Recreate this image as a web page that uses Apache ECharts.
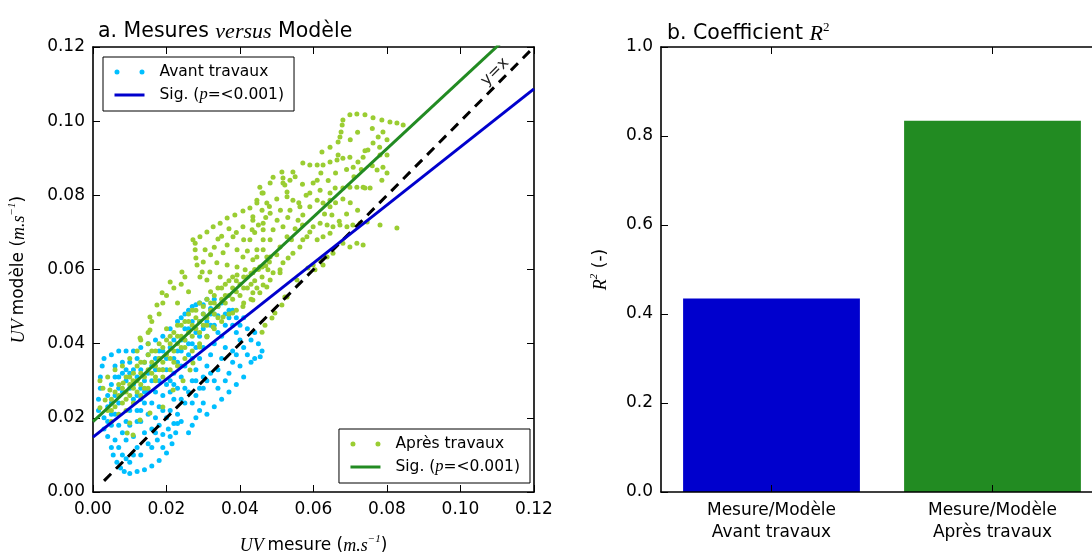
<!DOCTYPE html>
<html>
<head>
<meta charset="utf-8">
<script src="https://cdn.jsdelivr.net/npm/echarts@6.0.0/dist/echarts.min.js"></script>
<style>
  html, body { margin: 0; padding: 0; background: #fff; }
  #chart { width: 1092px; height: 554px; }
</style>
</head>
<body>
<div id="chart"></div>
<script>
// UV measured vs modelled, before works (Avant travaux)
const avantPoints = [
  [0.0015,0.022],[0.0015,0.025],[0.002,0.028],[0.002,0.031],[0.0025,0.034],[0.003,0.036],[0.005,0.037],[0.007,0.038],[0.009,0.038],[0.011,0.038],[0.013,0.039],[0.015,0.040],[0.017,0.041],[0.019,0.042],[0.021,0.044],[0.023,0.046],[0.025,0.048],[0.027,0.050],[0.029,0.051],[0.031,0.052],[0.033,0.052],[0.035,0.051],[0.037,0.049],
  [0.003,0.020],[0.004,0.023],[0.004,0.026],[0.005,0.029],[0.006,0.031],[0.006,0.034],[0.008,0.035],[0.010,0.035],[0.012,0.036],[0.003,0.017],[0.004,0.015],[0.005,0.018],[0.006,0.021],[0.007,0.024],[0.008,0.027],[0.009,0.030],[0.010,0.032],[0.011,0.029],[0.012,0.031],[0.013,0.033],[0.014,0.035],[0.015,0.037],
  [0.005,0.012],[0.0055,0.010],[0.0065,0.008],[0.0075,0.0065],[0.0085,0.0055],[0.010,0.005],[0.012,0.0055],[0.014,0.006],[0.016,0.007],[0.018,0.0085],[0.020,0.0105],[0.0215,0.013],[0.0225,0.016],[0.023,0.0185],
  [0.016,0.012],[0.0175,0.014],[0.019,0.0155],[0.0205,0.017],[0.022,0.0185],[0.024,0.019],
  [0.006,0.014],[0.007,0.012],[0.008,0.010],[0.009,0.009],[0.010,0.008],[0.011,0.010],[0.012,0.012],[0.013,0.010],[0.008,0.016],[0.009,0.019],[0.010,0.022],[0.011,0.025],[0.012,0.022],[0.013,0.019],[0.014,0.016],[0.015,0.013],[0.016,0.017],[0.017,0.020],[0.018,0.023],[0.019,0.026],[0.020,0.029],[0.014,0.024],[0.015,0.027],[0.016,0.030],[0.017,0.033],[0.018,0.036],[0.019,0.038],[0.013,0.028],[0.012,0.026],[0.010,0.018],[0.011,0.015],[0.007,0.018],[0.009,0.014],[0.015,0.021],[0.016,0.024],[0.017,0.027],[0.018,0.030],[0.019,0.033],[0.020,0.036],[0.021,0.039],[0.022,0.041],
  [0.021,0.022],[0.022,0.025],[0.023,0.028],[0.024,0.031],[0.025,0.034],[0.026,0.037],[0.027,0.040],[0.028,0.043],[0.029,0.046],[0.030,0.048],[0.022,0.032],[0.023,0.035],[0.024,0.038],[0.025,0.041],[0.026,0.044],[0.027,0.046],[0.023,0.021],[0.025,0.024],[0.026,0.027],[0.027,0.030],[0.028,0.033],[0.029,0.036],[0.030,0.039],[0.031,0.042],[0.032,0.045],[0.033,0.048],[0.034,0.050],
  [0.026,0.016],[0.027,0.018],[0.028,0.020],[0.029,0.022],[0.030,0.024],[0.028,0.026],[0.030,0.028],[0.031,0.030],[0.032,0.032],[0.033,0.030],[0.034,0.033],[0.035,0.036],[0.036,0.039],[0.035,0.042],[0.036,0.045],[0.037,0.047],[0.038,0.045],[0.039,0.043],[0.040,0.041],[0.041,0.039],[0.042,0.037],[0.043,0.035],[0.037,0.032],[0.038,0.035],[0.039,0.037],[0.040,0.034],[0.041,0.031],[0.039,0.029],[0.037,0.027],[0.035,0.025],[0.033,0.023],[0.031,0.021],[0.034,0.028],[0.036,0.030],[0.038,0.038],[0.040,0.045],[0.041,0.047],[0.042,0.044],[0.043,0.041],[0.044,0.043],[0.045,0.040],[0.046,0.038],[0.0455,0.0365],[0.044,0.036],[0.032,0.037],[0.033,0.040],[0.034,0.043],[0.031,0.034],[0.030,0.031],
  [0.024,0.047],[0.026,0.049],[0.028,0.0505],[0.030,0.0505],[0.032,0.0495],[0.034,0.0475],[0.036,0.048],[0.038,0.049],[0.039,0.047],
  [0.004,0.019],[0.005,0.021],[0.005,0.024],[0.006,0.026],[0.007,0.028],[0.007,0.031],[0.008,0.032],[0.009,0.033],[0.010,0.028],[0.011,0.033],[0.012,0.019],[0.013,0.022],[0.013,0.025],[0.014,0.027],[0.014,0.030],[0.015,0.032],[0.016,0.034],[0.017,0.036],[0.018,0.038],[0.020,0.033],[0.021,0.030],[0.021,0.027],[0.022,0.029],[0.022,0.036],[0.023,0.038],[0.024,0.034],[0.024,0.041],[0.025,0.044],[0.026,0.040],[0.027,0.036],[0.028,0.039],[0.029,0.042],[0.030,0.044],[0.031,0.046],[0.032,0.048],[0.033,0.045],[0.029,0.028],[0.028,0.030],[0.027,0.024],[0.025,0.028],[0.024,0.025],[0.020,0.020],[0.019,0.022],[0.018,0.018],[0.017,0.016],[0.019,0.012],[0.021,0.015]
];

// UV measured vs modelled, after works (Après travaux)
const apresPoints = [
  [0.004,0.022],[0.005,0.025],[0.006,0.023],[0.006,0.027],[0.007,0.026],[0.008,0.024],[0.008,0.028],[0.009,0.027],[0.009,0.031],[0.010,0.026],[0.010,0.029],[0.011,0.028],[0.011,0.032],[0.012,0.030],[0.012,0.034],[0.013,0.029],[0.013,0.032],[0.014,0.031],[0.014,0.035],[0.015,0.033],[0.015,0.037],[0.016,0.032],[0.016,0.035],[0.017,0.034],[0.017,0.038],[0.018,0.033],[0.018,0.036],[0.019,0.035],[0.019,0.039],[0.020,0.037],[0.020,0.041],[0.021,0.036],[0.021,0.040],[0.022,0.038],[0.022,0.043],[0.023,0.040],[0.023,0.045],[0.024,0.039],[0.024,0.042],[0.025,0.041],[0.025,0.046],[0.026,0.043],[0.026,0.048],[0.027,0.042],[0.027,0.045],[0.028,0.044],[0.028,0.049],[0.029,0.046],[0.029,0.051],[0.030,0.045],[0.030,0.048],[0.031,0.047],[0.031,0.052],[0.032,0.049],[0.032,0.054],[0.033,0.048],[0.033,0.051],[0.034,0.050],[0.034,0.055],[0.035,0.052],[0.036,0.051],[0.036,0.056],[0.037,0.053],[0.038,0.055],[0.038,0.058],[0.039,0.054],[0.040,0.056],[0.041,0.058],[0.042,0.055],[0.043,0.059],[0.044,0.057],[0.045,0.060],
  [0.005,0.022],[0.007,0.029],[0.009,0.025],[0.010,0.031],[0.012,0.027],[0.013,0.035],[0.014,0.028],[0.016,0.038],[0.017,0.031],[0.018,0.040],[0.019,0.033],[0.020,0.044],[0.021,0.042],[0.022,0.035],[0.023,0.042],[0.024,0.045],[0.025,0.039],[0.026,0.046],[0.027,0.049],[0.028,0.047],[0.029,0.043],[0.030,0.050],[0.031,0.045],[0.032,0.051],[0.033,0.053],[0.034,0.047],[0.035,0.055],[0.036,0.053],[0.037,0.057],[0.038,0.052],[0.039,0.057],[0.040,0.053],[0.041,0.055],[0.042,0.058],[0.043,0.056],[0.044,0.060],[0.046,0.058],[0.047,0.061],[0.048,0.062],[0.050,0.064],
  [0.005,0.019],[0.007,0.021],[0.009,0.022],[0.011,0.024],[0.013,0.026],[0.015,0.028],[0.017,0.030],[0.019,0.031],[0.021,0.033],[0.023,0.034],[0.025,0.036],[0.027,0.038],[0.029,0.040],[0.031,0.042],[0.033,0.044],[0.035,0.046],[0.037,0.048],[0.039,0.049],[0.041,0.051],[0.043,0.052],
  [0.0019,0.0227],[0.0033,0.0248],[0.0046,0.0275],[0.0082,0.0294],[0.0109,0.030],[0.0093,0.0159],[0.0109,0.0154],[0.010,0.0186],[0.0128,0.0194],[0.0155,0.0213],[0.019,0.0229],[0.0218,0.0275],[0.0245,0.030],[0.0264,0.0329],[0.0272,0.0348],[0.029,0.0391],[0.031,0.0418],[0.0327,0.0445],[0.0354,0.0472],[0.038,0.0483],[0.0408,0.050],[0.0435,0.0518],[0.0454,0.0537],[0.0473,0.0553],
  [0.0019,0.030],[0.0027,0.028],[0.004,0.031],[0.006,0.033],[0.008,0.034],[0.010,0.036],[0.012,0.038],[0.013,0.041],[0.015,0.043],[0.016,0.046],[0.018,0.048],[0.019,0.051],[0.020,0.053],[0.022,0.055],[0.023,0.051],[0.024,0.056],[0.026,0.054],[0.025,0.058],
  [0.0128,0.0415],[0.015,0.040],[0.0155,0.0437],[0.0155,0.0472],[0.0174,0.0504],[0.0188,0.0537],[0.021,0.0566],
  [0.0272,0.068],[0.0291,0.0688],[0.031,0.0701],[0.0327,0.0715],[0.0346,0.0725],[0.0365,0.0739],[0.0386,0.0747],[0.0408,0.0758],[0.0427,0.0766],[0.0446,0.0779],[0.046,0.0806],
  [0.0278,0.0671],[0.0278,0.0653],[0.028,0.0631],[0.0283,0.0612],[0.0242,0.0593],
  [0.0305,0.0653],[0.034,0.0682],[0.0381,0.0688],[0.0365,0.0666],[0.0392,0.0653],[0.0354,0.0645],[0.0337,0.0618],[0.0365,0.0612],[0.0408,0.0715],[0.0435,0.0733],[0.0433,0.0707],[0.0463,0.0707],[0.0463,0.068],[0.0427,0.068],[0.0408,0.0634],[0.0446,0.0653],[0.0435,0.0626],[0.0392,0.0607],[0.0318,0.0593],[0.0297,0.0593],[0.031,0.0572],[0.0291,0.058],[0.0346,0.058],[0.0392,0.0585],[0.0414,0.0599],[0.046,0.0607],[0.0473,0.0634],
  [0.030,0.062],[0.032,0.064],[0.033,0.066],[0.035,0.069],[0.037,0.071],[0.039,0.070],[0.041,0.068],[0.042,0.065],[0.044,0.070],[0.045,0.072],[0.047,0.074],[0.048,0.077],[0.050,0.079],[0.051,0.076],[0.053,0.074],[0.055,0.071],[0.057,0.072],[0.054,0.068],[0.056,0.078],[0.058,0.080],[0.057,0.083],[0.055,0.085],
  [0.0599,0.0715],[0.0618,0.0725],[0.0637,0.072],[0.0653,0.0715],[0.0672,0.072],[0.0691,0.0715],[0.0707,0.072],[0.0727,0.0725],[0.0746,0.0728],[0.0781,0.072],[0.0827,0.0712],
  [0.059,0.0701],[0.0582,0.0688],[0.0571,0.068],[0.0563,0.0661],[0.0544,0.0644],[0.0531,0.0631],[0.0517,0.0618],[0.0509,0.0599],[0.049,0.0591],[0.0482,0.0572],[0.0463,0.0558],[0.0446,0.055],[0.0435,0.0537],
  [0.061,0.068],[0.0626,0.0688],[0.0645,0.0698],[0.068,0.0671],[0.0699,0.0661],[0.0718,0.0671],[0.0735,0.0666],
  [0.0653,0.0644],[0.0637,0.0634],[0.0618,0.0626],[0.0599,0.0612],[0.0585,0.0604],
  [0.0495,0.0483],[0.0487,0.0469],[0.0468,0.045],[0.046,0.0431],[0.0514,0.0504],[0.0528,0.0526],[0.0509,0.0591],[0.0555,0.0572],[0.0522,0.0526],[0.0626,0.0612],[0.0604,0.0599],
  [0.0454,0.0822],[0.0463,0.0806],[0.0446,0.0787],[0.0473,0.0779],[0.046,0.076],[0.0482,0.0752],[0.0435,0.0742],[0.0463,0.0725],[0.0501,0.0733],[0.049,0.0707],[0.0517,0.0715],[0.0528,0.0688],[0.0482,0.068],[0.0509,0.0661],[0.0463,0.0653],[0.0446,0.0634],[0.0482,0.0634],[0.0454,0.0607],[0.0435,0.0591],[0.0476,0.0599],
  [0.049,0.0849],[0.0482,0.0833],[0.0517,0.0833],[0.0536,0.0841],[0.0544,0.0863],
  [0.0528,0.0796],[0.0544,0.0787],[0.0563,0.0769],[0.0536,0.076],[0.0571,0.0747],[0.0558,0.0733],
  [0.0599,0.0833],[0.061,0.0841],[0.0618,0.0814],[0.059,0.0806],[0.061,0.0787],[0.0626,0.0779],[0.059,0.0769],
  [0.0514,0.0863],[0.0517,0.0847],[0.0522,0.0828],[0.0528,0.0809],
  [0.063,0.075],[0.066,0.078],[0.068,0.079],[0.070,0.078],[0.072,0.076],[0.069,0.075],[0.067,0.073],[0.071,0.085],[0.069,0.087],[0.066,0.086],[0.064,0.084],[0.062,0.086],[0.073,0.087],[0.076,0.088],[0.078,0.093],[0.080,0.095],[0.076,0.098],[0.072,0.097],[0.070,0.095],[0.074,0.092],
  [0.068,0.1003],[0.0699,0.1017],[0.0718,0.1019],[0.074,0.1017],[0.0762,0.1009],[0.0786,0.1003],[0.0808,0.0998],[0.0827,0.0995],[0.0844,0.099],
  [0.0678,0.099],[0.0675,0.0971],[0.0672,0.0957],[0.0667,0.0944],[0.0645,0.093],[0.0623,0.0917],[0.0667,0.0909],
  [0.0789,0.0971],[0.0776,0.0957],[0.0762,0.0941],[0.0748,0.0922],[0.0735,0.0903],[0.0721,0.089],[0.0708,0.0876],
  [0.0781,0.0909],[0.080,0.0909],[0.0789,0.0876],[0.0773,0.0868],[0.080,0.086],[0.0786,0.0841],[0.0754,0.082],[0.0735,0.0822],
  [0.0571,0.0887],[0.059,0.0882],[0.061,0.0882],[0.0626,0.0882],[0.0645,0.089],[0.0664,0.0895],[0.068,0.090],[0.0699,0.0903],
  [0.0659,0.082],[0.068,0.082],[0.0699,0.0822],[0.0718,0.0822],[0.074,0.082],
  [0.0645,0.0806],[0.0645,0.0787],[0.0645,0.0769],[0.065,0.0747]
];

// Fitted regression lines (end points) and the identity line
const sigAvant = [[0, 0.0148], [0.12, 0.1087]];
const sigApres = [[0, 0.019], [0.12, 0.1294]];
const identityLine = [[0.003, 0.003], [0.12, 0.12]];

// Coefficient of determination per period
const r2Categories = ['Mesure/Modèle\nAvant travaux', 'Mesure/Modèle\nAprès travaux'];
const r2Values = [0.435, 0.834];

const FONT = 'DejaVu Sans';
const MATH = 'Liberation Serif';
const INK = '#000';
const BLUE_DOT = '#00bfff';
const GREEN_DOT = '#9acd32';
const BLUE = '#0000cd';
const GREEN = '#228b22';

const richMath = {
  n: { fontFamily: FONT, fontSize: 17, color: INK, fontWeight: 'normal' },
  i: { fontFamily: MATH, fontStyle: 'italic', fontSize: 18, color: INK, fontWeight: 'normal' },
  sup: { fontFamily: MATH, fontStyle: 'italic', fontSize: 11, color: INK, verticalAlign: 'top', fontWeight: 'normal' }
};

const twoDots = 'path://M0,2.5A2.5,2.5,0,1,1,5,2.5A2.5,2.5,0,1,1,0,2.5ZM25,2.5A2.5,2.5,0,1,1,30,2.5A2.5,2.5,0,1,1,25,2.5Z';

const legendCommon = {
  orient: 'vertical',
  itemWidth: 30,
  itemHeight: 5,
  itemGap: 5,
  padding: [6, 10, 7, 10],
  borderColor: INK,
  borderWidth: 1,
  borderRadius: 0,
  backgroundColor: '#fff',
  selectedMode: false,
  lineStyle: { width: 3 },
  textStyle: {
    fontFamily: FONT, fontSize: 15.5, color: INK, lineHeight: 18, padding: [0, 0, 0, 10],
    rich: {
      n: { fontFamily: FONT, fontSize: 15.5, color: INK },
      i: { fontFamily: MATH, fontStyle: 'italic', fontSize: 16.5, color: INK }
    }
  },
  formatter: function (name) {
    if (name.indexOf('Sig') === 0) return '{n|Sig. (}{i|p}{n|=<0.001)}';
    return name;
  }
};

const valueAxisBase = {
  min: 0, max: 0.12, interval: 0.02,
  axisLine: { show: true, onZero: false, lineStyle: { color: INK, width: 1.6 } },
  axisTick: { show: true, inside: true, length: 7, lineStyle: { color: INK, width: 1 } },
  splitLine: { show: false }
};

const tickLabel = {
  fontFamily: FONT, fontSize: 17, color: INK,
  formatter: v => v.toFixed(2)
};

const option = {
  animation: false,
  backgroundColor: '#fff',
  textStyle: { fontFamily: FONT },
  title: [
    {
      left: 93, top: 16,
      text: '{n|a. Mesures }{i|versus}{n| Modèle}',
      textStyle: {
        fontWeight: 'normal',
        rich: {
          n: { fontFamily: FONT, fontSize: 20.5, color: INK, fontWeight: 'normal' },
          i: { fontFamily: MATH, fontStyle: 'italic', fontSize: 22, color: INK, fontWeight: 'normal' }
        }
      }
    },
    {
      left: 662, top: 16,
      text: '{n|b. Coefficient }{i|R}{sup|2}',
      textStyle: {
        fontWeight: 'normal',
        rich: {
          n: { fontFamily: FONT, fontSize: 20.5, color: INK, lineHeight: 26, fontWeight: 'normal' },
          i: { fontFamily: MATH, fontStyle: 'italic', fontSize: 22, color: INK, lineHeight: 26, fontWeight: 'normal' },
          sup: { fontFamily: MATH, fontSize: 13, color: INK, verticalAlign: 'top', lineHeight: 26, fontWeight: 'normal' }
        }
      }
    }
  ],
  legend: [
    Object.assign({}, legendCommon, {
      left: 103, top: 57,
      data: [{ name: 'Avant travaux', icon: twoDots }, { name: 'Sig. avant', itemStyle: { opacity: 0 } }]
    }),
    Object.assign({}, legendCommon, {
      right: 562, bottom: 71,
      data: [{ name: 'Après travaux', icon: twoDots }, { name: 'Sig. après', itemStyle: { opacity: 0 } }]
    })
  ],
  grid: [
    { left: 93, top: 47, right: 558, bottom: 62, containLabel: false, outerBoundsMode: 'none' },
    { left: 661, top: 47, right: -11, bottom: 62, containLabel: false, outerBoundsMode: 'none' }
  ],
  xAxis: [
    Object.assign({}, valueAxisBase, {
      type: 'value', gridIndex: 0, position: 'bottom',
      axisLabel: Object.assign({ margin: 9 }, tickLabel),
      name: '{i|UV} {n|mesure (}{i|m.s}{sup|−1}{n|)}',
      nameLocation: 'middle', nameGap: 42,
      nameTextStyle: { rich: richMath, lineHeight: 24 }
    }),
    Object.assign({}, valueAxisBase, {
      type: 'value', gridIndex: 0, position: 'top', axisLabel: { show: false }
    }),
    {
      type: 'category', gridIndex: 1, position: 'bottom', data: r2Categories, z: 5,
      axisLine: { show: true, lineStyle: { color: INK, width: 1.6 } },
      axisTick: { show: true, inside: true, length: 7, alignWithLabel: true, lineStyle: { color: INK, width: 1 } },
      axisLabel: { fontFamily: FONT, fontSize: 17, color: INK, lineHeight: 22, margin: 8 }
    },
    {
      type: 'category', gridIndex: 1, position: 'top', data: r2Categories, z: 5,
      axisLine: { show: true, lineStyle: { color: INK, width: 1.6 } },
      axisTick: { show: true, inside: true, length: 7, alignWithLabel: true, lineStyle: { color: INK, width: 1 } },
      axisLabel: { show: false }
    }
  ],
  yAxis: [
    Object.assign({}, valueAxisBase, {
      type: 'value', gridIndex: 0, position: 'left',
      axisLabel: Object.assign({ margin: 8 }, tickLabel),
      name: '{i|UV} {n|modèle (}{i|m.s}{sup|−1}{n|)}',
      nameLocation: 'middle', nameGap: 62,
      nameTextStyle: { rich: richMath, lineHeight: 24 }
    }),
    Object.assign({}, valueAxisBase, {
      type: 'value', gridIndex: 0, position: 'right', axisLabel: { show: false }
    }),
    {
      type: 'value', gridIndex: 1, position: 'left', min: 0, max: 1, interval: 0.2, z: 5,
      axisLine: { show: true, onZero: false, lineStyle: { color: INK, width: 1.6 } },
      axisTick: { show: true, inside: true, length: 7, lineStyle: { color: INK, width: 1 } },
      splitLine: { show: false },
      axisLabel: { fontFamily: FONT, fontSize: 17, color: INK, margin: 8, formatter: v => v.toFixed(1) },
      name: '{i|R}{sup|2}{n| (-)}',
      nameLocation: 'middle', nameGap: 48,
      nameTextStyle: { rich: richMath, lineHeight: 24 }
    }
  ],
  series: [
    {
      name: 'Avant travaux', type: 'scatter', xAxisIndex: 0, yAxisIndex: 0,
      data: avantPoints, symbol: 'circle', symbolSize: 5,
      itemStyle: { color: BLUE_DOT, opacity: 1 }, z: 2
    },
    {
      name: 'Après travaux', type: 'scatter', xAxisIndex: 0, yAxisIndex: 0,
      data: apresPoints, symbol: 'circle', symbolSize: 5,
      itemStyle: { color: GREEN_DOT, opacity: 1 }, z: 2
    },
    {
      name: 'y=x', type: 'line', xAxisIndex: 0, yAxisIndex: 0,
      data: identityLine, showSymbol: false, symbol: 'none', clip: true,
      lineStyle: { color: INK, width: 3, type: [10, 7] }, z: 4,
      markPoint: {
        symbol: 'circle', symbolSize: 0,
        data: [{ coord: [0.1094, 0.1133] }],
        label: { show: true, formatter: 'y=x', rotate: 45, fontFamily: FONT, fontSize: 16, color: '#222', position: 'inside' }
      }
    },
    {
      name: 'Sig. avant', type: 'line', xAxisIndex: 0, yAxisIndex: 0,
      data: sigAvant, showSymbol: false, symbol: 'none', clip: true,
      lineStyle: { color: BLUE, width: 3 }, itemStyle: { color: BLUE }, z: 5
    },
    {
      name: 'Sig. après', type: 'line', xAxisIndex: 0, yAxisIndex: 0,
      data: sigApres, showSymbol: false, symbol: 'none', clip: true,
      lineStyle: { color: GREEN, width: 3 }, itemStyle: { color: GREEN }, z: 5
    },
    {
      name: 'R2', type: 'bar', xAxisIndex: 2, yAxisIndex: 2,
      barWidth: '80%',
      data: r2Values.map((v, i) => ({ value: v, itemStyle: { color: i === 0 ? BLUE : GREEN } })),
      z: 2
    }
  ]
};

const chart = echarts.init(document.getElementById('chart'), null, { renderer: 'canvas' });
chart.setOption(option);
</script>
</body>
</html>
